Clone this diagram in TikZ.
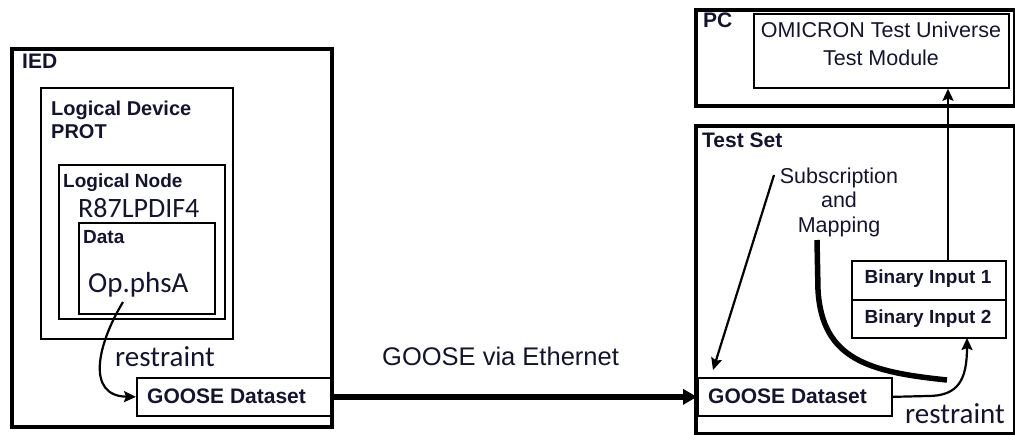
\documentclass[tikz,border=0pt]{standalone}
\usepackage{fontspec}
\setmainfont{Liberation Sans}
\newfontfamily\calfont{Carlito}
\usetikzlibrary{arrows.meta}
\definecolor{txt}{RGB}{20,20,50}
\begin{document}
\begin{tikzpicture}[x=1pt,y=-1pt,
  box/.style={draw, line width=1.7pt, inner sep=0pt, anchor=north west},
  outerbox/.style={draw, line width=3.5pt, inner sep=0pt, anchor=north west},
  blbl/.style={anchor=base west, inner sep=0pt, text=txt, font=\bfseries\fontsize{20}{24}\selectfont},
  sblbl/.style={anchor=base west, inner sep=0pt, text=txt, font=\bfseries\fontsize{19}{23}\selectfont},
  rlbl/.style={anchor=base, inner sep=0pt, text=txt, font=\fontsize{21.5}{25}\selectfont},
  clbl/.style={anchor=base west, inner sep=0pt, text=txt, font=\calfont\fontsize{29}{34}\selectfont},
  tip/.style={-{Stealth[length=12pt,width=11pt,inset=2pt]}},
  conn/.style={line width=2.2pt, tip}
]
\useasboundingbox (0,0) rectangle (1015,434);

% ---------- IED side ----------
\node[outerbox, minimum width=320pt, minimum height=378pt] (ied) at (10,47) {};
\node[blbl, font=\bfseries\fontsize{21}{25}\selectfont] (iedl) at (22,68) {IED};
\node[box, minimum width=192pt, minimum height=251pt] (ld) at (40,87) {};
\node[blbl] (ldl1) at (51,115) {Logical Device};
\node[blbl] (ldl2) at (51,138) {PROT};
\node[box, minimum width=166pt, minimum height=154pt] (ln) at (58,164) {};
\node[sblbl] (lnl) at (63,187) {Logical Node};
\node[clbl, font=\calfont\fontsize{28}{33}\selectfont] (lnname) at (78,217) {R87LPDIF4};
\node[box, minimum width=136pt, minimum height=91pt] (data) at (78,222) {};
\node[sblbl] (datal) at (83,243) {Data};
\node[clbl] (opphs) at (88,292) {Op.phsA};
\node[clbl] (restr1) at (115,366) {restraint};
\node[box, fill=white, minimum width=194pt, minimum height=38pt] (gds1) at (136,377) {};
\node[blbl, font=\bfseries\fontsize{21}{25}\selectfont] (gds1l) at (147,403) {GOOSE Dataset};

\coordinate (s1) at (123,302);
\draw[conn] (s1) .. controls (97,345) and (86,396) .. (gds1.west);

% ---------- Ethernet ----------
\node[anchor=base west, inner sep=0pt, text=txt, font=\fontsize{25.5}{30}\selectfont] (eth) at (382,365) {GOOSE via Ethernet};

% ---------- PC ----------
\node[outerbox, minimum width=319pt, minimum height=96pt] (pc) at (694,8) {};
\node[blbl, font=\bfseries\fontsize{21}{25}\selectfont] (pcl) at (703,27) {PC};
\node[box, minimum width=255pt, minimum height=74pt] (omi) at (753,13) {};
\node[rlbl] (omil1) at (881,37) {OMICRON Test Universe};
\node[rlbl] (omil2) at (881,65) {Test Module};

% ---------- Test Set ----------
\node[outerbox, minimum width=319pt, minimum height=308pt] (ts) at (694,124) {};
\node[blbl, font=\bfseries\fontsize{21}{25}\selectfont] (tsl) at (702,147) {Test Set};
\node[rlbl] (sub1) at (839,183) {Subscription};
\node[rlbl] (sub2) at (839,207) {and};
\node[rlbl] (sub3) at (839,232) {Mapping};
\node[box, minimum width=154pt, minimum height=39pt] (bin1) at (851,260) {};
\node[box, minimum width=154pt, minimum height=38pt] (bin2) at (851,299) {};
\node[sblbl, anchor=base] (bin1l) at (928,283) {Binary Input 1};
\node[sblbl, anchor=base] (bin2l) at (928,323) {Binary Input 2};
\node[box, minimum width=194pt, minimum height=38pt] (gds2) at (697,377) {};
\node[blbl, font=\bfseries\fontsize{21}{25}\selectfont] (gds2l) at (708,403) {GOOSE Dataset};
\node[clbl] (restr2) at (905,423) {restraint};

% main GOOSE arrow
\draw[line width=6pt, -{Triangle[length=14pt,width=15pt]}] (gds1.east) -- (gds2.west);

% subscription arrow
\coordinate (sa) at (774,175);
\coordinate (se) at (713,370);
\draw[conn] (sa) -- (se);

% thick mapping curve
\coordinate (m1) at (817,240);
\coordinate (m2) at (947,380);
\draw[line width=5.5pt] (m1) -- (818,290) .. controls (822,360) and (870,372) .. (m2);

% restraint arrow to Binary Input 2
\coordinate (r1) at (967,338);
\draw[conn] (gds2.east) -- (928,396) .. controls (958,396) and (967,380) .. (r1);

% Binary Input 1 to OMICRON
\coordinate (up) at (948,260);
\draw[conn] (up) -- (up |- omi.south);
\end{tikzpicture}
\end{document}
